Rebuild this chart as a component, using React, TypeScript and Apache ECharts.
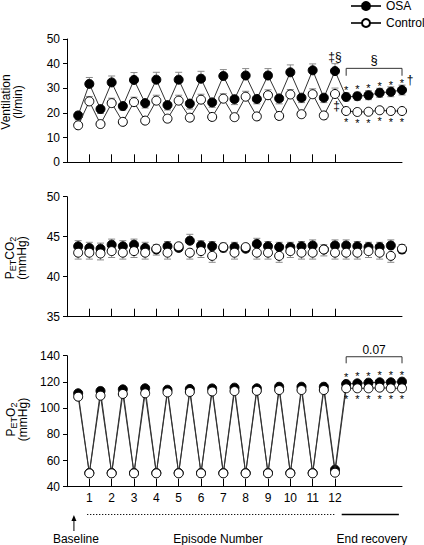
import React, { useEffect, useRef } from 'react';
import * as echarts from 'echarts';

const FONT = '"Liberation Sans", Arial, Helvetica, sans-serif';

// x positions: baseline (0.5), episodes 1..12 with inter-episode points, end recovery (12.5..15)
const xPositions = [0.5, 1, 1.5, 2, 2.5, 3, 3.5, 4, 4.5, 5, 5.5, 6, 6.5, 7, 7.5, 8, 8.5, 9, 9.5, 10, 10.5, 11, 11.5, 12, 12.5, 13, 13.5, 14, 14.5, 15];
const episodeTicks = [1, 2, 3, 4, 5, 6, 7, 8, 9, 10, 11, 12];

// Ventilation (l/min)
const ventOSA = [19.0, 31.8, 21.6, 32.4, 22.8, 33.4, 24.0, 33.5, 23.2, 33.5, 23.8, 33.9, 24.3, 35.0, 25.6, 35.2, 25.7, 35.2, 25.9, 36.5, 26.2, 37.3, 26.2, 37.0, 26.5, 26.8, 27.2, 28.2, 28.6, 29.3];
const ventOSASE = [1.8, 2.6, 1.8, 2.6, 1.6, 3.0, 2.0, 3.0, 2.0, 3.0, 2.2, 3.0, 2.0, 2.6, 2.2, 2.8, 2.0, 2.8, 2.2, 3.0, 2.0, 2.6, 2.0, 3.0, 1.6, 1.6, 1.8, 1.8, 2.0, 2.0];
const ventControl = [15.0, 24.7, 15.5, 24.0, 16.4, 24.4, 16.9, 25.0, 17.7, 25.0, 18.1, 25.4, 18.4, 25.8, 18.3, 26.6, 18.6, 27.2, 18.8, 27.5, 19.5, 27.6, 19.0, 27.7, 20.8, 20.4, 20.5, 21.1, 20.8, 20.8];
const ventControlSE = [1.2, 2.0, 1.2, 2.0, 1.2, 2.0, 1.2, 2.2, 1.4, 2.2, 1.4, 2.2, 1.4, 2.0, 1.4, 2.2, 1.4, 2.2, 1.4, 2.0, 1.4, 2.2, 1.4, 2.4, 0.8, 0.8, 0.8, 0.8, 0.8, 0.8];

// PETCO2 (mmHg)
const co2OSA = [43.8, 43.6, 43.5, 44.0, 43.8, 44.0, 43.6, 43.4, 43.8, 43.6, 44.5, 43.9, 43.8, 43.6, 43.7, 43.5, 44.1, 43.8, 43.7, 43.7, 43.8, 43.9, 43.4, 43.9, 43.9, 43.8, 43.7, 43.7, 43.9, 43.4];
const co2OSASE = [0.7, 0.7, 0.7, 0.7, 0.7, 0.7, 0.7, 0.6, 0.6, 0.6, 0.8, 0.6, 0.6, 0.6, 0.6, 0.6, 0.7, 0.6, 0.6, 0.6, 0.6, 0.7, 0.6, 0.7, 0.7, 0.6, 0.6, 0.6, 0.7, 0.6];
const co2Control = [43.0, 43.0, 42.9, 43.2, 43.0, 43.2, 43.0, 43.5, 43.0, 43.8, 43.0, 43.2, 42.6, 43.7, 43.0, 43.7, 43.0, 43.0, 42.6, 43.2, 43.0, 43.0, 43.4, 43.0, 43.0, 43.0, 43.2, 43.0, 42.6, 43.5];
const co2ControlSE = [0.8, 0.8, 0.8, 0.8, 0.8, 0.8, 0.8, 0.8, 0.8, 0.6, 0.8, 0.8, 0.8, 0.6, 0.8, 0.6, 0.8, 0.8, 0.8, 0.8, 0.8, 0.8, 0.8, 0.8, 0.8, 0.8, 0.8, 0.8, 0.8, 0.6];

// PETO2 (mmHg)
const o2OSA = [111.3, 50.5, 113.1, 50.5, 114.3, 50.5, 115.1, 50.5, 114.0, 50.5, 114.6, 50.5, 115.0, 50.5, 115.6, 50.5, 115.1, 50.5, 116.3, 50.5, 116.3, 50.5, 116.3, 53.0, 118.4, 118.9, 119.4, 119.7, 119.7, 120.2];
const o2Control = [108.7, 50.2, 109.5, 50.2, 110.8, 50.2, 111.3, 50.2, 112.0, 50.2, 112.3, 50.2, 112.7, 50.2, 113.0, 50.2, 113.2, 50.2, 113.8, 50.2, 113.8, 50.2, 113.8, 50.7, 115.1, 115.1, 115.1, 115.6, 115.1, 115.1];

// annotation anchors (data units)
const topBracket = { x0: 12.5, x1: 15, y: 38.1, yEnd: 35.1, text: '§', textY: 41.6 };
const bottomBracket = { x0: 12.5, x1: 15, y: 139.2, yEnd: 134.2, text: '0.07', textY: 144.6 };
const footer = { arrowX: 0.31, dotFrom: 0.9, dotTo: 12.0, solidFrom: 12.3, solidTo: 14.86, baselineX: 0.4, episodeX: 6.76, recoveryX: 13.65 };

// y-axis titles: two rotated lines each
const yTitles = [
  { lines: ['Ventilation', '(l/min)'], xs: [5.5, 17.5], y: 102 },
  { lines: ['{n|P}{s|ET}{n|CO}{s|2}', '{n|(mmHg)}'], xs: [9.5, 21.5], y: 258 },
  { lines: ['{n|P}{s|ET}{n|O}{s|2}', '{n|(mmHg)}'], xs: [11, 23], y: 419.5 },
];

const GRIDS = [
  { left: 67, width: 335, top: 39, height: 123.3 },
  { left: 67, width: 335, top: 196.7, height: 120 },
  { left: 67, width: 335, top: 355.7, height: 131 },
];

const isRecovery = (x: number) => x > 12;
const isPeakTick = (x: number) => Number.isInteger(x) && x <= 12;

function starred(values: number[], above: boolean) {
  return xPositions.map((x, i) => {
    if (!isRecovery(x)) return [x, values[i]];
    return {
      value: [x, values[i]],
      label: {
        show: true,
        formatter: '*',
        position: 'inside',
        offset: [0, above ? -7 : 11],
        fontSize: 11,
        color: '#000',
        textBorderWidth: 0,
        textBorderColor: 'transparent',
        fontFamily: FONT,
      },
    };
  });
}

function errData(values: number[], se: number[], dir: (x: number) => 'up' | 'down' | 'both') {
  const out: number[][] = [];
  xPositions.forEach((x, i) => {
    const d = dir(x);
    if (d === 'up' || d === 'both') out.push([x, values[i], values[i] + se[i]]);
    if (d === 'down' || d === 'both') out.push([x, values[i], values[i] - se[i]]);
  });
  return out;
}

function errSeries(g: number, data: number[][]) {
  return {
    type: 'custom',
    xAxisIndex: g,
    yAxisIndex: g,
    z: 1,
    silent: true,
    data,
    encode: { x: 0, y: [1, 2] },
    renderItem: (_p: any, api: any) => {
      const x = api.value(0);
      const a = api.coord([x, api.value(1)]);
      const b = api.coord([x, api.value(2)]);
      const cap = 3.5;
      const st = { stroke: '#8a8a8a', lineWidth: 1 };
      return {
        type: 'group',
        children: [
          { type: 'line', shape: { x1: a[0], y1: a[1], x2: b[0], y2: b[1] }, style: st },
          { type: 'line', shape: { x1: b[0] - cap, y1: b[1], x2: b[0] + cap, y2: b[1] }, style: st },
        ],
      };
    },
  };
}

function lineSeries(name: string, g: number, data: any[], filled: boolean, showLine: boolean) {
  return {
    name,
    type: 'line',
    xAxisIndex: g,
    yAxisIndex: g,
    z: filled ? 2 : 3,
    data,
    symbol: 'circle',
    symbolSize: 9,
    showAllSymbol: true,
    lineStyle: { color: '#333', width: 1, opacity: showLine ? 1 : 0 },
    itemStyle: filled
      ? { color: '#000', borderColor: '#000', borderWidth: 1 }
      : { color: '#fff', borderColor: '#000', borderWidth: 1 },
    emphasis: { disabled: true },
  };
}

const ySub = {
  n: { fontSize: 12, fontFamily: FONT, fill: '#000', color: '#000', lineHeight: 12 },
  s: { fontSize: 9, fontFamily: FONT, fill: '#000', color: '#000', lineHeight: 9, padding: [6, 0, 0, 0] },
};

function buildOption(): any {
  const xAxes = [0, 1, 2].map((g) => ({
    type: 'value',
    gridIndex: g,
    min: 0,
    max: 15,
    axisLine: { lineStyle: { color: '#000', width: 1 } },
    axisTick: { show: true, inside: true, length: 8, customValues: episodeTicks, lineStyle: { color: '#000' } },
    axisLabel: {
      show: g === 2,
      customValues: episodeTicks,
      color: '#000',
      fontSize: 12,
      fontFamily: FONT,
      margin: 5,
    },
    splitLine: { show: false },
  }));

  const yBase = {
    type: 'value',
    axisLine: { show: true, lineStyle: { color: '#000', width: 1 } },
    axisTick: { show: true, inside: false, length: 4, lineStyle: { color: '#000' } },
    axisLabel: { color: '#000', fontSize: 12, fontFamily: FONT, margin: 7 },
    splitLine: { show: false },
  };

  const yAxes = [
    { ...yBase, gridIndex: 0, min: 0, max: 50, interval: 10 },
    { ...yBase, gridIndex: 1, min: 35, max: 50, interval: 5 },
    { ...yBase, gridIndex: 2, min: 40, max: 140, interval: 20 },
  ];

  const series: any[] = [
    errSeries(0, errData(ventOSA, ventOSASE, (x) => (isRecovery(x) ? 'both' : isPeakTick(x) ? 'up' : 'down'))),
    errSeries(0, errData(ventControl, ventControlSE, (x) => (isPeakTick(x) ? 'up' : 'down'))),
    errSeries(1, errData(co2OSA, co2OSASE, () => 'up')),
    errSeries(1, errData(co2Control, co2ControlSE, () => 'down')),
    lineSeries('OSA', 0, starred(ventOSA, true), true, true),
    lineSeries('Control', 0, starred(ventControl, false), false, true),
    lineSeries('OSA', 1, xPositions.map((x, i) => [x, co2OSA[i]]), true, false),
    lineSeries('Control', 1, xPositions.map((x, i) => [x, co2Control[i]]), false, false),
    lineSeries('OSA', 2, starred(o2OSA, true), true, true),
    lineSeries('Control', 2, starred(o2Control, false), false, true),
  ];

  return {
    animation: false,
    backgroundColor: '#fff',
    textStyle: { fontFamily: FONT },
    grid: GRIDS,
    xAxis: xAxes,
    yAxis: yAxes,
    legend: {
      data: ['OSA', 'Control'],
      orient: 'vertical',
      left: 350,
      top: 0,
      padding: 0,
      itemGap: 5,
      itemWidth: 30,
      itemHeight: 10,
      textStyle: { fontSize: 12, fontFamily: FONT, color: '#000' },
      selectedMode: false,
    },
    series,
  };
}

export default function App() {
  const ref = useRef<HTMLDivElement>(null);
  useEffect(() => {
    if (!ref.current) return;
    const chart = echarts.init(ref.current, null, { renderer: 'svg' });
    chart.setOption(buildOption());

    const px = (g: number, x: number, y: number) => chart.convertToPixel({ gridIndex: g } as any, [x, y]) as number[];
    const textStyle = (text: string, size = 12) => ({
      text,
      font: `${size}px ${FONT}`,
      fill: '#000',
      align: 'center',
      verticalAlign: 'middle',
    });
    const graphics: any[] = [];

    // y-axis titles
    yTitles.forEach((t) => {
      t.lines.forEach((line, k) => {
        graphics.push({
          type: 'text',
          x: t.xs[k],
          y: t.y,
          rotation: Math.PI / 2,
          style: { ...textStyle(line, 12), rich: ySub },
        });
      });
    });

    const bracket = (g: number, b: typeof topBracket, size: number) => {
      const p0 = px(g, b.x0, b.yEnd);
      const p1 = px(g, b.x0, b.y);
      const p2 = px(g, b.x1, b.y);
      const p3 = px(g, b.x1, b.yEnd);
      graphics.push({
        type: 'polyline',
        shape: { points: [p0, p1, p2, p3] },
        style: { stroke: '#333', lineWidth: 1, fill: null },
      });
      const t = px(g, (b.x0 + b.x1) / 2, b.textY);
      graphics.push({ type: 'text', x: t[0], y: t[1], style: textStyle(b.text, size) });
    };
    bracket(0, topBracket, 13);
    bracket(2, bottomBracket, 12);

    // symbols near episode 12 and last recovery point (top panel)
    const osa12 = px(0, 12, ventOSA[23]);
    graphics.push({ type: 'text', x: osa12[0], y: osa12[1] - 14, style: textStyle('‡§', 12) });
    const ctl12 = px(0, 12, ventControl[23]);
    graphics.push({ type: 'text', x: ctl12[0] + 1.5, y: ctl12[1] + 12.5, style: textStyle('‡', 12) });
    const osaLast = px(0, 15, ventOSA[29]);
    graphics.push({ type: 'text', x: osaLast[0] + 8, y: osaLast[1] - 10, style: textStyle('†', 12) });

    // footer
    const fx = (x: number) => px(2, x, 40)[0];
    const ax = fx(footer.arrowX);
    graphics.push({ type: 'line', shape: { x1: ax, y1: 531, x2: ax, y2: 519 }, style: { stroke: '#000', lineWidth: 1 } });
    graphics.push({ type: 'polygon', shape: { points: [[ax, 515], [ax - 2.5, 521], [ax + 2.5, 521]] }, style: { fill: '#000' } });
    graphics.push({
      type: 'line',
      shape: { x1: fx(footer.dotFrom), y1: 514.5, x2: fx(footer.dotTo), y2: 514.5 },
      style: { stroke: '#000', lineWidth: 1, lineDash: [1.2, 1.8] },
    });
    graphics.push({
      type: 'line',
      shape: { x1: fx(footer.solidFrom), y1: 514.5, x2: fx(footer.solidTo), y2: 514.5 },
      style: { stroke: '#000', lineWidth: 1.5 },
    });
    graphics.push({ type: 'text', x: fx(footer.baselineX), y: 539, style: textStyle('Baseline') });
    graphics.push({ type: 'text', x: fx(footer.episodeX), y: 539, style: textStyle('Episode Number') });
    graphics.push({ type: 'text', x: fx(footer.recoveryX), y: 539, style: textStyle('End recovery') });

    chart.setOption({ graphic: graphics });
    return () => chart.dispose();
  }, []);
  return <div ref={ref} style={{ position: 'fixed', left: 0, top: 0, width: 424, height: 545 }} />;
}
